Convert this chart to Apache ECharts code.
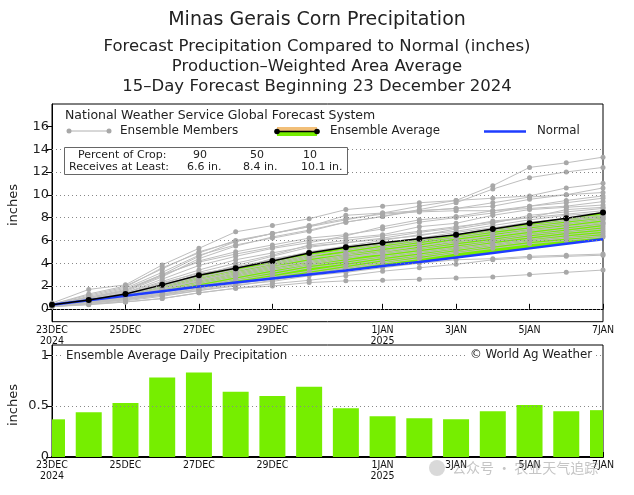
<!DOCTYPE html>
<html><head><meta charset="utf-8">
<script src="https://cdn.jsdelivr.net/npm/echarts@6/dist/echarts.min.js"></script>
<style>html,body{margin:0;padding:0;background:#fff}#c{width:634px;height:495px}</style>
</head><body><div id="c"></div>
<script>
// ---------- data ----------
const categories = ['23DEC\n2024','24DEC','25DEC','26DEC','27DEC','28DEC','29DEC','30DEC','31DEC','1JAN\n2025','2JAN','3JAN','4JAN','5JAN','6JAN','7JAN'];
const tickLabels = ['23DEC\n2024','25DEC','27DEC','29DEC','1JAN\n2025','3JAN','5JAN','7JAN'];
const topYTicks = [0,2,4,6,8,10,12,14,16];
const topGrid = [0,2,4,6,8,10,12,14];
const botYTicks = [0,0.5,1];
const botGrid = [0.5,1];

const ensembleAverage = [0.35,0.78,1.3,2.1,2.95,3.55,4.2,4.9,5.4,5.8,6.15,6.5,7.0,7.5,7.95,8.45];
const normal = [0.35,0.75,1.15,1.55,1.95,2.3,2.65,3.0,3.35,3.75,4.1,4.5,4.9,5.3,5.7,6.1];
const dailyPrecip = [0.37,0.44,0.53,0.78,0.83,0.64,0.60,0.69,0.48,0.40,0.38,0.37,0.45,0.51,0.45,0.46];

const m1  = [0.4,1.0,1.6,3.0,4.6,5.9,6.6,7.2,7.8,8.4,9.0,9.5,10.8,12.4,12.8,13.3];
const m2  = [0.3,0.9,1.5,2.8,4.4,5.5,6.3,6.9,7.6,8.1,8.7,9.3,10.5,11.5,12.0,12.4];
const m3  = [0.5,1.7,2.1,3.85,5.3,6.75,7.3,7.9,8.7,9.0,9.3,9.5,9.7,9.9,10.6,11.0];
const m4  = [0.4,1.3,2.0,3.5,5.0,5.9,6.6,7.2,8.2,8.4,8.6,8.8,9.3,9.8,10.0,10.6];
const m5  = [0.3,1.1,1.8,3.2,4.7,5.6,6.2,6.8,7.6,8.1,8.6,8.8,9.0,9.6,10.0,10.2];
const m6  = [0.4,1.2,1.9,3.6,4.9,6.0,6.6,7.3,7.9,8.3,8.5,8.6,8.6,9.0,9.5,9.9];
const m7  = [0.3,0.9,1.6,2.9,4.2,5.0,5.6,6.2,6.5,7.0,7.6,8.0,8.4,9.0,9.3,9.7];
const m8  = [0.3,0.8,1.4,2.6,3.8,4.6,5.3,5.8,6.4,7.2,7.8,8.1,8.6,8.8,9.0,9.4];
const m9  = [0.4,1.0,1.7,3.0,4.1,4.8,5.4,6.0,6.2,6.5,7.2,7.5,8.2,8.7,8.9,9.1];
const m10 = [0.3,0.9,1.3,2.2,3.2,4.0,4.7,5.6,6.0,6.4,6.8,7.2,7.6,8.0,8.7,8.9];
const m11 = [0.3,0.7,1.2,2.0,2.9,3.8,4.6,5.4,5.8,6.1,6.4,7.0,7.5,8.2,8.5,8.8];
const m12 = [0.4,0.8,1.4,2.4,3.4,4.3,4.9,5.5,5.8,6.2,6.7,7.1,7.7,8.0,8.3,8.6];
const m13 = [0.3,0.8,1.2,2.1,3.0,3.7,4.3,5.0,5.5,6.0,6.5,6.8,7.3,7.8,8.2,8.4];
const m14 = [0.3,0.6,1.0,1.8,2.6,3.3,4.0,4.6,5.2,5.7,6.2,6.7,7.1,7.6,7.9,8.2];
const m15 = [0.4,0.7,1.1,1.9,2.7,3.5,4.4,4.9,5.4,5.8,6.1,6.5,7.0,7.5,7.8,8.1];
const m16 = [0.3,0.7,1.3,2.3,3.1,3.6,4.1,4.7,5.1,5.6,6.0,6.5,6.9,7.3,7.7,8.0];
const m17 = [0.3,0.6,1.0,1.7,2.5,3.2,3.8,4.4,4.9,5.4,5.9,6.3,6.8,7.2,7.5,7.9];
const m18 = [0.4,0.8,1.2,2.0,2.8,3.4,3.9,4.5,4.8,5.3,5.7,6.2,6.6,7.0,7.4,7.8];
const m19 = [0.3,0.7,1.1,1.8,2.4,3.0,3.6,4.2,4.7,5.1,5.5,5.9,6.4,6.8,7.2,7.6];
const m20 = [0.3,0.6,1.0,1.6,2.3,2.9,3.5,4.0,4.5,5.0,5.5,6.0,6.4,6.9,7.2,7.5];
const m21 = [0.3,0.5,0.9,1.5,2.2,2.8,3.4,3.9,4.4,4.9,5.3,5.8,6.2,6.6,7.0,7.4];
const m22 = [0.4,0.7,1.1,1.7,2.5,3.1,3.7,4.1,4.6,4.8,5.2,5.6,6.0,6.5,6.8,7.2];
const m23 = [0.3,0.6,0.9,1.4,2.0,2.6,3.2,3.8,4.2,4.6,5.0,5.4,5.9,6.3,6.7,7.0];
const m24 = [0.3,0.5,0.8,1.3,1.9,2.5,3.0,3.6,4.0,4.5,4.9,5.3,5.7,6.1,6.5,6.8];
const m25 = [0.3,0.5,0.8,1.2,1.8,2.3,2.8,3.3,3.8,4.3,4.7,5.2,5.6,6.0,6.3,6.6];
const m26 = [0.3,0.5,0.9,1.3,1.7,2.2,2.6,3.1,3.6,4.1,4.6,5.0,5.5,5.9,6.2,6.4];
const m27 = [0.2,0.4,0.7,1.1,1.6,2.0,2.5,3.0,3.5,4.0,4.4,4.9,5.3,5.7,6.0,6.3];
const m28 = [0.3,0.5,0.8,1.2,1.6,2.1,2.4,2.9,3.2,3.6,4.0,4.3,4.4,4.6,4.7,4.8];
const m29 = [0.2,0.4,0.6,0.9,1.4,1.8,2.2,2.5,2.9,3.3,3.6,3.9,4.3,4.5,4.6,4.7];
const m30 = [0.2,0.35,0.6,0.9,1.4,1.8,2.0,2.3,2.45,2.5,2.6,2.7,2.8,3.0,3.2,3.4];
const members = [m1,m2,m3,m4,m5,m6,m7,m8,m9,m10,m11,m12,m13,m14,m15,m16,m17,m18,m19,m20,m21,m22,m23,m24,m25,m26,m27,m28,m29,m30];

const percentOfCrop = [90,50,10];
const receivesAtLeast = [6.6,8.4,10.1];

const titleLines = ['Minas Gerais Corn Precipitation','Forecast Precipitation Compared to Normal (inches)','Production\u2013Weighted Area Average','15\u2013Day Forecast Beginning 23 December 2024'];

// ---------- chart ----------
const GREEN = '#76EE00';
const FONT = "'DejaVu Sans', 'Liberation Sans', sans-serif";
const CFONT = "'DejaVu Sans Condensed', 'Liberation Sans Narrow', 'Liberation Sans', sans-serif";
const chart = echarts.init(document.getElementById('c'), null, {renderer:'canvas'});
const showTick = (i, v) => tickLabels.indexOf(v) >= 0;

const xAxisCommon = (gi) => ({
  type:'category', gridIndex: gi, data: categories, boundaryGap:false,
  axisLine:{show:true, lineStyle:{color:'#000', width: gi===1?2:1}},
  axisTick:{show:true, inside:true, length:5, interval: showTick, lineStyle:{color:'#000'}},
  axisLabel:{interval: showTick, color:'#111', fontFamily: CFONT, fontSize:10.5, lineHeight:11, margin:3},
  splitLine:{show:false}
});

const series = [];
series.push({
  type:'line', xAxisIndex:0, yAxisIndex:0, data: normal, stack:'fill', symbol:'none',
  lineStyle:{width:0, opacity:0}, z:1, silent:true,
  markLine:{silent:true, symbol:'none', label:{show:false}, animation:false,
    lineStyle:{color:'#888', type:[1,3], width:1},
    data: topGrid.map(v => ({yAxis:v}))}
});
series.push({
  type:'line', xAxisIndex:0, yAxisIndex:0, data: ensembleAverage.map((v,i)=> +(v-normal[i]).toFixed(3)),
  stack:'fill', symbol:'none', lineStyle:{width:0, opacity:0}, areaStyle:{color:GREEN, opacity:1}, z:1, silent:true
});
members.forEach(m => series.push({
  type:'line', xAxisIndex:0, yAxisIndex:0, data:m, symbol:'circle', symbolSize:5,
  itemStyle:{color:'#A8A8A8'}, lineStyle:{color:'#BEBEBE', width:1}, z:2, silent:true
}));
series.push({type:'line', xAxisIndex:0, yAxisIndex:0, data: normal, symbol:'none',
  lineStyle:{color:'#1E3CFF', width:2.5}, z:3, silent:true});
series.push({type:'line', xAxisIndex:0, yAxisIndex:0, data: ensembleAverage, symbol:'circle', symbolSize:6,
  itemStyle:{color:'#000'}, lineStyle:{color:'#000', width:1.5}, z:4, silent:true});
// gridlines for lower panel
series.push({type:'line', xAxisIndex:1, yAxisIndex:1, data: [], z:1, silent:true,
  markLine:{silent:true, symbol:'none', label:{show:false}, animation:false,
    lineStyle:{color:'#888', type:[1,3], width:1},
    data: botGrid.map(v => ({yAxis:v}))}
});
// daily bars, clipped to the plot area
series.push({type:'custom', xAxisIndex:1, yAxisIndex:1, silent:true, z:3,
  data: dailyPrecip.map((v,i) => [i, v]), encode:{x:0, y:1},
  renderItem: function(params, api){
    const top = api.coord([api.value(0), api.value(1)]);
    const base = api.coord([api.value(0), 0]);
    const w = 26;
    const cs = params.coordSys;
    const r = echarts.graphic.clipRectByRect(
      {x: top[0]-w/2, y: top[1], width: w, height: base[1]-top[1]},
      {x: cs.x, y: cs.y, width: cs.width, height: cs.height});
    return r && {type:'rect', shape:r, style:{fill:GREEN}};
  }
});

const g = [];
titleLines.forEach((t,i) => g.push({type:'text', left:'center', top:[11,38,58,78][i],
  style:{text:t, fontFamily:FONT, fontSize: i===0?19:16.5, fill:'#222', textAlign:'center'}}));
g.push({type:'text', x:14, y:205, rotation:Math.PI/2, style:{text:'inches', fontFamily:FONT, fontSize:13, fill:'#222', textAlign:'center', textVerticalAlign:'middle'}});
g.push({type:'text', x:14, y:405, rotation:Math.PI/2, style:{text:'inches', fontFamily:FONT, fontSize:13, fill:'#222', textAlign:'center', textVerticalAlign:'middle'}});
// legend
g.push({type:'text', x:65, y:116, z:100, style:{text:'National Weather Service Global Forecast System', fontFamily:FONT, fontSize:12.5, fill:'#222', textVerticalAlign:'middle'}});
g.push({type:'line', z:100, shape:{x1:69,y1:131,x2:109,y2:131}, style:{stroke:'#B0B0B0', lineWidth:1}});
g.push({type:'circle', z:100, shape:{cx:69,cy:131,r:2.5}, style:{fill:'#A8A8A8'}});
g.push({type:'circle', z:100, shape:{cx:109,cy:131,r:2.5}, style:{fill:'#A8A8A8'}});
g.push({type:'text', x:120, y:131, z:100, style:{text:'Ensemble Members', fontFamily:FONT, fontSize:12, fill:'#222', textVerticalAlign:'middle'}});
g.push({type:'rect', z:100, shape:{x:277,y:127,width:40,height:4}, style:{fill:'#F2BF78'}});
g.push({type:'rect', z:100, shape:{x:277,y:131,width:40,height:5}, style:{fill:GREEN}});
g.push({type:'line', z:101, shape:{x1:277,y1:131.5,x2:317,y2:131.5}, style:{stroke:'#000', lineWidth:1.5}});
g.push({type:'circle', z:101, shape:{cx:277,cy:131.5,r:2.8}, style:{fill:'#000'}});
g.push({type:'circle', z:101, shape:{cx:317,cy:131.5,r:2.8}, style:{fill:'#000'}});
g.push({type:'text', x:330, y:131, z:100, style:{text:'Ensemble Average', fontFamily:FONT, fontSize:11.8, fill:'#222', textVerticalAlign:'middle'}});
g.push({type:'line', z:100, shape:{x1:484,y1:131.5,x2:526,y2:131.5}, style:{stroke:'#1E3CFF', lineWidth:2.5}});
g.push({type:'text', x:537, y:131, z:100, style:{text:'Normal', fontFamily:FONT, fontSize:11.8, fill:'#222', textVerticalAlign:'middle'}});
// inner box
g.push({type:'rect', z:100, shape:{x:64.5,y:147.5,width:283,height:27}, style:{fill:'#fff', stroke:'#666', lineWidth:1}});
g.push({type:'text', x:78, y:155, z:101, style:{text:'Percent of Crop:', fontFamily:FONT, fontSize:11, fill:'#222', textVerticalAlign:'middle'}});
g.push({type:'text', x:69, y:167, z:101, style:{text:'Receives at Least:', fontFamily:FONT, fontSize:11, fill:'#222', textVerticalAlign:'middle'}});
[200,257,310].forEach((cx,i) => g.push({type:'text', x:cx, y:155, z:101, style:{text:String(percentOfCrop[i]), fontFamily:FONT, fontSize:11, fill:'#222', textAlign:'center', textVerticalAlign:'middle'}}));
[187,243,301].forEach((lx,i) => g.push({type:'text', x:lx, y:167, z:101, style:{text:receivesAtLeast[i].toFixed(1)+' in.', fontFamily:FONT, fontSize:11, fill:'#222', textVerticalAlign:'middle'}}));
// bottom panel texts
g.push({type:'text', x:64, y:356, z:100, style:{text:'Ensemble Average Daily Precipitation', fontFamily:FONT, fontSize:11.8, fill:'#222', textVerticalAlign:'middle', backgroundColor:'#fff', padding:[1,2]}});
g.push({type:'text', x:594, y:355, z:100, style:{text:'\u00A9 World Ag Weather', fontFamily:FONT, fontSize:11.8, fill:'#222', textAlign:'right', textVerticalAlign:'middle', backgroundColor:'#fff', padding:[1,2]}});
// watermark
g.push({type:'circle', z:200, shape:{cx:437,cy:468,r:8}, style:{fill:'rgba(170,170,170,0.45)'}});
g.push({type:'text', x:452, y:468, z:200, style:{text:'公众号 · 农业天气追踪', fontFamily:"'Noto Sans CJK SC', sans-serif", fontSize:14, fill:'rgba(150,150,150,0.55)', textVerticalAlign:'middle'}});

chart.setOption({
  animation:false,
  backgroundColor:'#fff',
  grid:[
    {left:52, right:31, top:104, height:217.7, show:true, borderColor:'#000', borderWidth:1, backgroundColor:'transparent'},
    {left:52, right:31, top:345, height:112, show:true, borderColor:'#000', borderWidth:1, backgroundColor:'transparent'}
  ],
  xAxis:[xAxisCommon(0), xAxisCommon(1)],
  yAxis:[
    {type:'value', gridIndex:0, min:-1.13, max:17.96,
     axisLine:{show:true, lineStyle:{color:'#000'}},
     axisTick:{show:true, customValues: topYTicks, length:6, lineStyle:{color:'#000'}},
     axisLabel:{customValues: topYTicks, color:'#222', fontFamily:FONT, fontSize:13, margin:3},
     splitLine:{show:false}},
    {type:'value', gridIndex:1, min:0, max:1.1,
     axisLine:{show:true, lineStyle:{color:'#000'}},
     axisTick:{show:true, customValues: botYTicks, length:6, lineStyle:{color:'#000'}},
     axisLabel:{customValues: botYTicks, color:'#222', fontFamily:FONT, fontSize:13, margin:3},
     splitLine:{show:false}}
  ],
  series: series,
  graphic: g
});
</script>
</body></html>
